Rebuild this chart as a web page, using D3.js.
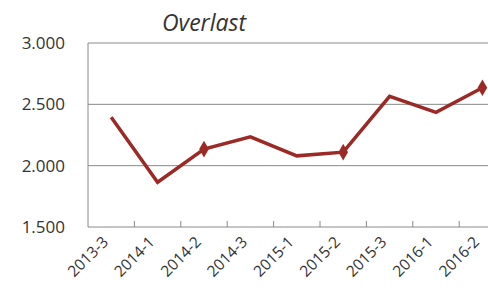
<!DOCTYPE html>
<html><head><meta charset="utf-8">
<script src="https://cdn.jsdelivr.net/npm/d3@7"></script>
<style>html,body{margin:0;padding:0;background:#fff;overflow:hidden}</style>
</head><body>
<svg id="chart" width="488" height="292"></svg>
<script>
const categories = ["2013-3","2014-1","2014-2","2014-3","2015-1","2015-2","2015-3","2016-1","2016-2"];
const values = [2395, 1865, 2135, 2235, 2080, 2110, 2565, 2435, 2635];
const markerIdx = [2, 5, 8];
const yTicks = [1500, 2000, 2500, 3000];
const title = "Overlast";

(function () {
const svg = d3.select("#chart");
const mLeft = 88, mBottom = 227, mTop = 43, step = 46.4;
const x = d3.scaleBand().domain(categories).range([mLeft, mLeft + step * categories.length]).paddingInner(0).paddingOuter(0);
const y = d3.scaleLinear().domain([1500, 3000]).range([mBottom, mTop]);
const fmt = d3.formatLocale({decimal: ",", thousands: ".", grouping: [3], currency: ["", ""]}).format(",.0f");
const cx = d => x(d) + x.bandwidth() / 2;

svg.append("g").selectAll("line").data(yTicks.filter(t => t > 1500)).join("line")
  .attr("x1", mLeft).attr("x2", 488).attr("y1", d => y(d)).attr("y2", d => y(d))
  .attr("stroke", "#8a8a8a").attr("stroke-width", 1);

svg.append("g").selectAll("text").data(yTicks).join("text")
  .attr("x", 65).attr("y", d => y(d)).attr("dy", "0.36em")
  .attr("text-anchor", "end").attr("font-family", "Open Sans").attr("font-size", 17)
  .attr("fill", "#333").text(d => fmt(d));

svg.append("line").attr("x1", mLeft).attr("x2", mLeft).attr("y1", mTop).attr("y2", mBottom)
  .attr("stroke", "#8a8a8a").attr("stroke-width", 1);
svg.append("line").attr("x1", mLeft).attr("x2", 488).attr("y1", mBottom).attr("y2", mBottom)
  .attr("stroke", "#8a8a8a").attr("stroke-width", 1);
svg.append("g").selectAll("line").data(categories.slice(1)).join("line")
  .attr("x1", d => x(d)).attr("x2", d => x(d)).attr("y1", mBottom - 6).attr("y2", mBottom)
  .attr("stroke", "#8a8a8a").attr("stroke-width", 1);

svg.append("g").selectAll("text").data(categories).join("text")
  .attr("transform", d => `translate(${cx(d) - 2},${mBottom + 16}) rotate(-45)`)
  .attr("text-anchor", "end").attr("font-family", "Open Sans").attr("font-size", 15.5)
  .attr("fill", "#333").text(d => d);

const line = d3.line().x((d, i) => cx(categories[i])).y(d => y(d));
svg.append("path").datum(values).attr("d", line).attr("fill", "none")
  .attr("stroke", "#9b2a26").attr("stroke-width", 3.5).attr("stroke-linejoin", "miter");

svg.append("g").selectAll("path").data(markerIdx).join("path")
  .attr("transform", i => `translate(${cx(categories[i])},${y(values[i])})`)
  .attr("d", d3.symbol(d3.symbolDiamond, 80)).attr("fill", "#9b2a26");

svg.append("text").attr("x", 162).attr("y", 31).attr("font-family", "Open Sans")
  .attr("font-style", "italic").attr("font-size", 23).attr("fill", "#333").text(title);
})();
</script>
</body></html>
